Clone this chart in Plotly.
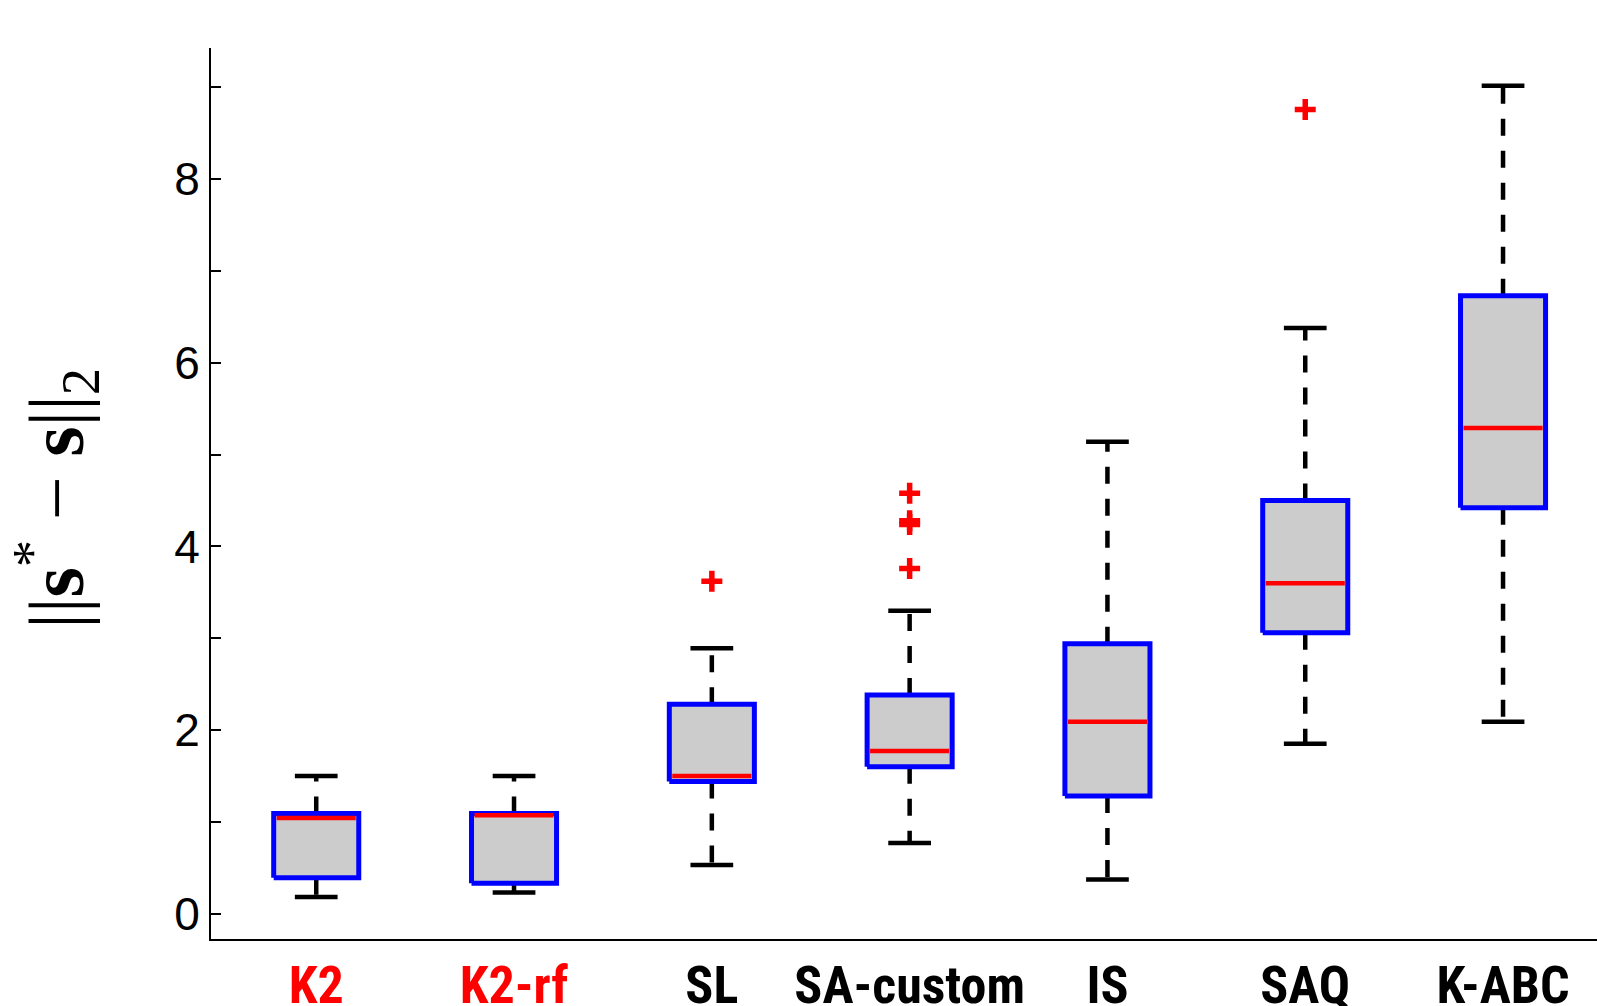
import plotly.graph_objects as go

categories = ["K2", "K2-rf", "SL", "SA-custom", "IS", "SAQ", "K-ABC"]
label_colors = ["#FF0000", "#FF0000", "#000000", "#000000", "#000000", "#000000", "#000000"]
lower_whisker = [0.18, 0.23, 0.53, 0.77, 0.37, 1.85, 2.09]
q1 = [0.39, 0.33, 1.44, 1.60, 1.28, 3.06, 4.42]
median = [1.04, 1.07, 1.50, 1.77, 2.09, 3.60, 5.29]
q3 = [1.09, 1.09, 2.28, 2.38, 2.94, 4.50, 6.73]
upper_whisker = [1.50, 1.50, 2.89, 3.30, 5.14, 6.38, 9.02]
outliers = [[], [], [3.62], [4.58, 4.28, 4.24, 3.76], [], [8.76], []]
y_tick_values = [0, 2, 4, 6, 8]
y_tick_labels = ["0", "2", "4", "6", "8"]
y_minor_ticks = [1, 3, 5, 7, 9]

BOX_HALF = 0.215
CAP_HALF = 0.108
MED_HALF = 0.2

fig = go.Figure()
positions = list(range(1, len(categories) + 1))

for i, p in enumerate(positions):
    fig.add_trace(go.Scatter(
        x=[p, p, None, p, p],
        y=[q3[i], upper_whisker[i], None, q1[i], lower_whisker[i]],
        mode="lines", line=dict(color="black", width=4.5, dash="17px,15px"),
        hoverinfo="skip", showlegend=False))
    fig.add_trace(go.Scatter(
        x=[p - CAP_HALF, p + CAP_HALF, None, p - CAP_HALF, p + CAP_HALF],
        y=[upper_whisker[i], upper_whisker[i], None, lower_whisker[i], lower_whisker[i]],
        mode="lines", line=dict(color="black", width=4.5),
        hoverinfo="skip", showlegend=False))
    fig.add_trace(go.Scatter(
        x=[p - BOX_HALF, p + BOX_HALF, p + BOX_HALF, p - BOX_HALF, p - BOX_HALF],
        y=[q1[i], q1[i], q3[i], q3[i], q1[i]],
        mode="lines", fill="toself", fillcolor="#CCCCCC",
        line=dict(color="#0000FF", width=5),
        hoverinfo="skip", showlegend=False))
    fig.add_trace(go.Scatter(
        x=[p - MED_HALF, p + MED_HALF],
        y=[median[i], median[i]],
        mode="lines", line=dict(color="#FF0000", width=4.5),
        hoverinfo="skip", showlegend=False))
    if outliers[i]:
        fig.add_trace(go.Scatter(
            x=[p] * len(outliers[i]), y=outliers[i], mode="markers",
            marker=dict(symbol="cross-thin", size=15, color="#FF0000",
                        line=dict(color="#FF0000", width=5.5)),
            hoverinfo="skip", showlegend=False))

ticktext = [f'<span style="color:{c}"><b>{t}</b></span>' for t, c in zip(categories, label_colors)]

fig.update_layout(
    width=1597, height=1006,
    margin=dict(l=211, r=0, t=48, b=67, autoexpand=False),
    plot_bgcolor="white", paper_bgcolor="white",
    showlegend=False,
    xaxis=dict(
        range=[0.468, 7.475], tickmode="array", tickvals=positions, ticktext=ticktext,
        showline=True, linecolor="black", linewidth=2, ticks="", showgrid=False,
        zeroline=False, automargin=False,
        tickfont=dict(family="Roboto Condensed, DejaVu Sans", size=52, color="black"),
    ),
    yaxis=dict(
        range=[-0.277, 9.43], tickmode="array", tickvals=y_tick_values, ticktext=y_tick_labels,
        showline=True, linecolor="black", linewidth=2, ticks="inside", ticklen=10,
        tickwidth=1.5, tickcolor="black", showgrid=False, zeroline=False, automargin=False,
        minor=dict(tickvals=y_minor_ticks, ticks="inside", ticklen=10, tickwidth=1.5,
                   tickcolor="black", showgrid=False),
        tickfont=dict(family="Liberation Sans", size=46, color="black"),
    ),
    annotations=[dict(
        text="||<b>s</b><sup>*</sup> − <b>s</b>||<sub>2</sub>",
        xref="paper", yref="paper", x=-0.112, y=0.495, textangle=-90,
        showarrow=False, xanchor="center", yanchor="middle",
        font=dict(family="Liberation Serif", size=78, color="black"),
    )],
)

fig.write_html("out.html", config={"displayModeBar": False},
               post_script="document.body.style.margin='0';document.body.style.overflow='hidden';")
